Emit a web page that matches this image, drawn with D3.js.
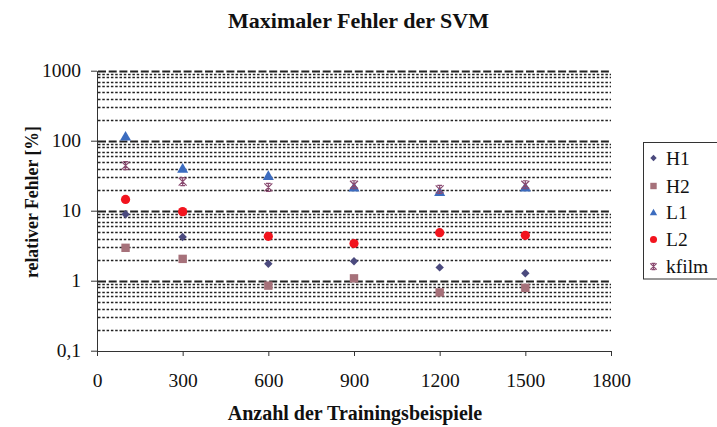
<!DOCTYPE html>
<html><head><meta charset="utf-8">
<script src="https://cdn.jsdelivr.net/npm/d3@7"></script>
<style>body{margin:0;background:#fff}svg{display:block}text{font-family:"Liberation Serif","Times New Roman",serif;fill:#111}</style>
</head><body><svg id="c" width="717" height="427"></svg>
<script>
const xValues = [100, 300, 600, 900, 1200, 1500];
const seriesNames = ["H1", "H2", "L1", "L2", "kfilm"];
const H1 = [8.9, 4.2, 1.75, 1.9, 1.55, 1.28];
const H2 = [2.95, 2.05, 0.85, 1.08, 0.68, 0.79];
const L1 = [115, 40, 31.5, 21.5, 18.5, 21.5];
const L2 = [14.5, 9.7, 4.3, 3.4, 4.85, 4.45];
const kfilm = [44, 26, 21.5, 23.5, 20.2, 23.5];
const xTicks = [0, 300, 600, 900, 1200, 1500, 1800];
const yTicks = [0.1, 1, 10, 100, 1000];
const yTickLabels = ["0,1", "1", "10", "100", "1000"];
const title = "Maximaler Fehler der SVM";
const xTitle = "Anzahl der Trainingsbeispiele";
const yTitle = "relativer Fehler [%]";

const seriesData = [H1, H2, L1, L2, kfilm];
const colors = ["#4B4A7E", "#A6717A", "#3C6CBF", "#F2141E", "#8A4A70"];
const shapes = ["diamond", "square", "triangle", "circle", "star"];

const svg = d3.select("#c");
const x = d3.scaleLinear().domain([0, 1800]).range([97, 611]);
const y = d3.scaleLog().domain([0.1, 1000]).range([350.7, 70.7]);

// grid
const grid = svg.append("g");
for (let e = -1; e < 3; e++) {
  for (let m = 2; m <= 9; m++) {
    const v = m * Math.pow(10, e);
    grid.append("line").attr("x1", 98).attr("x2", 611).attr("y1", Math.round(y(v)) + 0.5).attr("y2", Math.round(y(v)) + 0.5)
      .attr("stroke", "#222").attr("stroke-width", 1.6).attr("stroke-dasharray", "2.5,1.8");
  }
}
yTicks.slice(1).forEach(v => {
  grid.append("line").attr("x1", 98).attr("x2", 611).attr("y1", Math.round(y(v)) + 0.5).attr("y2", Math.round(y(v)) + 0.5)
    .attr("stroke", "#222").attr("stroke-width", 1.8).attr("stroke-dasharray", "8,2.7");
});

// axes
const xAxis = d3.axisBottom(x).tickValues(xTicks).tickSize(5).tickPadding(17).tickSizeOuter(0).tickFormat(d3.format("d"));
const gx = svg.append("g").attr("transform", "translate(0,351)").call(xAxis);
gx.select(".domain").attr("stroke", "#333");
gx.selectAll(".tick line").attr("stroke", "#333");
gx.selectAll("text").attr("font-size", 19.5).attr("font-family", "Liberation Serif").attr("fill", "#111");

const yAxis = d3.axisLeft(y).tickValues(yTicks).tickSize(6).tickPadding(10).tickSizeOuter(0)
  .tickFormat((d, i) => yTickLabels[i]);
const gy = svg.append("g").attr("transform", "translate(97,0)").call(yAxis);
gy.select(".domain").attr("stroke", "#333");
gy.selectAll(".tick line").attr("stroke", "#333");
gy.selectAll("text").attr("font-size", 19.5).attr("font-family", "Liberation Serif").attr("fill", "#111");

// markers
function drawMarker(g, shape, color, s) {
  if (shape === "diamond") g.append("path").attr("d", `M0,${-s}L${s},0L0,${s}L${-s},0Z`).attr("fill", color);
  else if (shape === "square") g.append("rect").attr("x", -s).attr("y", -s).attr("width", 2 * s).attr("height", 2 * s).attr("fill", color);
  else if (shape === "triangle") g.append("path").attr("d", `M0,${-s * 1.15}L${s * 1.15},${s * 0.85}L${-s * 1.15},${s * 0.85}Z`).attr("fill", color);
  else if (shape === "circle") g.append("circle").attr("r", s * 1.1).attr("fill", color);
  else if (shape === "star") {
    g.append("path").attr("d", `M${-s},${-s}L${s},${s}M${s},${-s}L${-s},${s}M${-s * 0.6},${-s}L${s * 0.6},${-s}M${-s * 0.6},${s}L${s * 0.6},${s}M0,${-s * 0.9}L0,${s * 0.9}`)
      .attr("stroke", color).attr("stroke-width", 1.2).attr("fill", "none");
  }
}
const sizes = [4.2, 4.2, 4.8, 4.2, 4];
seriesData.forEach((arr, si) => {
  arr.forEach((v, i) => {
    const g = svg.append("g").attr("transform", `translate(${x(xValues[i])},${y(v)})`);
    drawMarker(g, shapes[si], colors[si], sizes[si]);
  });
});

// titles
svg.append("text").attr("x", 358.5).attr("y", 27.5).attr("text-anchor", "middle").attr("font-size", 22).attr("font-weight", "bold").text(title);
svg.append("text").attr("x", 355).attr("y", 420).attr("text-anchor", "middle").attr("font-size", 20).attr("font-weight", "bold").text(xTitle);
svg.append("text").attr("transform", "translate(38,202) rotate(-90)").attr("text-anchor", "middle").attr("font-size", 17.8).attr("font-weight", "bold").text(yTitle);

// legend
const lg = svg.append("g");
lg.append("rect").attr("x", 643.5).attr("y", 142.5).attr("width", 80).attr("height", 136.5).attr("fill", "#fff").attr("stroke", "#333").attr("stroke-width", 1);
const legY = [158, 186, 212.5, 239.5, 266.5];
seriesNames.forEach((n, i) => {
  const g = lg.append("g").attr("transform", `translate(653.5,${legY[i]})`);
  drawMarker(g, shapes[i], colors[i], 3.2);
  lg.append("text").attr("x", 666).attr("y", legY[i]).attr("dy", "0.34em").attr("font-size", 19.5).text(n);
});
</script></body></html>
